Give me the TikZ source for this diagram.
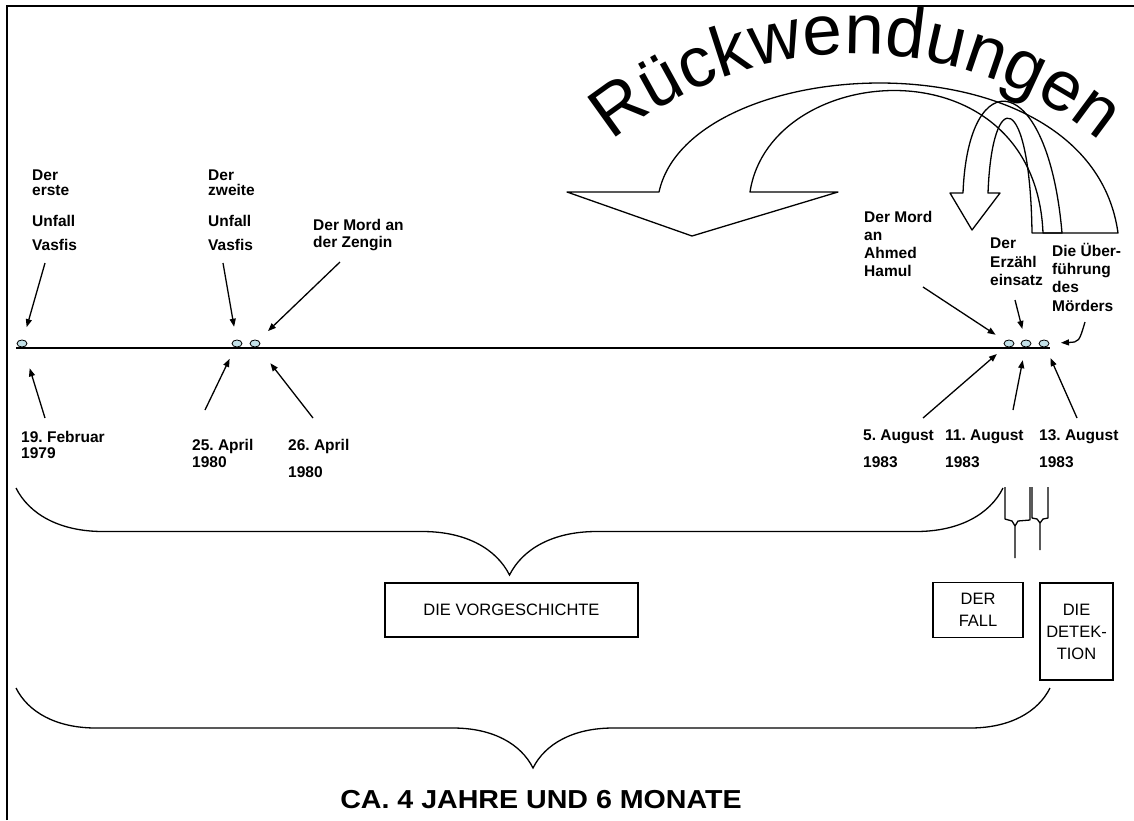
\documentclass[tikz,border=0pt]{standalone}
\usepackage{fontspec}
\setmainfont{Liberation Sans}
\newfontfamily\titelfont{Liberation Sans}[FakeStretch=1.1]
\usetikzlibrary{arrows.meta,shapes.geometric,decorations.pathreplacing,decorations.text}
\definecolor{punktblau}{RGB}{195,225,232}
\newcommand\rwfont{\fontsize{71}{80}\selectfont}
\tikzset{%
  % Specifications for style of nodes:
          punkt/.style = {ellipse, draw=black, fill=punktblau, minimum width=10pt,
                          minimum height=7pt, inner sep=0pt, line width=0.8pt},
          marke/.style = {anchor=base west, align=left, inner sep=0pt,
                          font=\fontsize{15.5}{18}\selectfont\bfseries\frenchspacing},
         kasten/.style = {draw, line width=1.2pt, align=center, inner sep=0pt,
                          font=\fontsize{16.5}{22}\selectfont},
%        titel/.style = {font=\fontsize{26}{30}\selectfont},
zeiger/.style={
           -{Triangle[length=8pt,width=6pt]},
           line width=1.3pt,
           shorten >=16pt},
klammer/.style={decorate, decoration={brace, mirror, amplitude=#1}, line width=1.3pt},
bogen/.style={line width=1.3pt, line join=round}
}
\begin{document}
\begin{tikzpicture}[x=1pt, y=-1pt]
\useasboundingbox (0,0) rectangle (1134,820);

% frame
\draw[line width=2.5pt] (7,820) -- (7,6) -- (1134,6);

% time line and dots
\coordinate (anfang) at (16,348);
\coordinate (ende) at (1050,348);
\draw[line width=1.8pt] (anfang) -- (ende);

\node[punkt] (d1) at (22,343.5) {};
\node[punkt] (d2) at (237,343.5) {};
\node[punkt] (d3) at (255,343.5) {};
\node[punkt] (d4) at (1009,343.5) {};
\node[punkt] (d5) at (1026,343.5) {};
\node[punkt] (d6) at (1044,343.5) {};

% events (anchored at the last line)
\node[marke] (erste)  at (32,250)  {Der\\[-3pt]erste\\[13pt]Unfall\\[6pt]Vasfis};
\node[marke] (zweite) at (208,250) {Der\\[-3pt]zweite\\[13pt]Unfall\\[6pt]Vasfis};
\node[marke] (zengin) at (313,247) {Der Mord an\\[-1pt]der Zengin};
\node[marke] (hamul)  at (864,276) {Der Mord\\an\\Ahmed\\Hamul};
\node[marke] (erz)    at (990,285) {Der\\[1pt]Erzähl\\einsatz};
\node[marke] (ueber)  at (1052,311) {Die Über-\\führung\\des\\[1pt]Mörders};

% dates
\node[marke] (feb)   at (21,458)  {19. Februar\\[-2pt]1979};
\node[marke] (apr25) at (192,467) {25. April\\[-1pt]1980};
\node[marke] (apr26) at (288,477) {26. April\\[9pt]1980};
\node[marke] (aug5)  at (863,467) {5. August\\[9pt]1983};
\node[marke] (aug11) at (945,467) {11. August\\[9pt]1983};
\node[marke] (aug13) at (1039,467) {13. August\\[9pt]1983};

% pointers
\coordinate (s1) at (45,263);
\coordinate (s2) at (223,263);
\coordinate (s3) at (340,262);
\coordinate (s4) at (923,287);
\coordinate (s5) at (1015,300);
\coordinate (s6) at (1085,322);
\coordinate (u1) at (45,418);
\coordinate (u2) at (205,410);
\coordinate (u3) at (313,418);
\coordinate (u4) at (923,418);
\coordinate (u5) at (1013,410);
\coordinate (u6) at (1077,418);

\draw[zeiger, shorten >=17pt] (s1) -- (d1.center);
\draw[zeiger, shorten >=17pt] (s2) -- (d2.center);
\draw[zeiger, shorten >=18pt] (s3) -- (d3.center);
\draw[zeiger, shorten >=16pt] (s4) -- (d4.center);
\draw[zeiger, shorten >=15pt] (s5) -- (d5.center);
\draw[zeiger, shorten >=17pt] (s6) .. controls (1079,342) .. (d6.center);
\draw[zeiger, shorten >=26pt] (u1) -- (d1.center);
\draw[zeiger, shorten >=17pt] (u2) -- (d2.center);
\draw[zeiger, shorten >=25pt] (u3) -- (d3.center);
\draw[zeiger, shorten >=16pt] (u4) -- (d4.center);
\draw[zeiger, shorten >=17pt] (u5) -- (d5.center);
\draw[zeiger, shorten >=16pt] (u6) -- (d6.center);

% flashbacks
\path[decorate, decoration={text along path, text align=center,
      text={|\rwfont|Rückwendungen}}]
  (856,438) ++(-140:384) arc[start angle=-140, end angle=-40, radius=384];
\draw[bogen] (659,192) .. controls (690,50) and (1090,30) .. (1118,233)
  -- (1043,233) .. controls (1035,40) and (770,60) .. (750,192)
  -- (838,192) -- (692,236) -- (567,192) -- cycle;
\draw[bogen] (963,193) .. controls (968,60) and (1048,70) .. (1062,233)
  -- (1032,233) .. controls (1030,90) and (992,85) .. (988,193)
  -- (1000,193) -- (972,230) -- (950,193) -- cycle;

% braces
\draw[klammer=87] (16,488) -- (1003,488);
\draw[klammer=80] (16,688) -- (1050,688);
\draw[bogen] (1005,487) -- (1005,519) -- (1012,521) -- (1015,526) -- (1015,558);
\draw[bogen] (1015,526) -- (1018,521) -- (1030,520) -- (1030,487);
\draw[bogen] (1032,487) -- (1032,518) -- (1037,519) -- (1040,523) -- (1040,550);
\draw[bogen] (1040,523) -- (1043,519) -- (1048,518) -- (1048,487);

% parts
\node[kasten, minimum width=253pt, minimum height=54pt] (vorg) at (511.5,610) {DIE VORGESCHICHTE};
\node[kasten, minimum width=90pt, minimum height=55pt] (fall) at (978,610) {DER\\FALL};
\node[kasten, minimum width=73pt, minimum height=97pt] (det) at (1076.5,631.5) {DIE\\DETEK-\\TION};

\node[font=\titelfont\fontsize{26}{30}\selectfont\bfseries] (dauer) at (541,800) {CA. 4 JAHRE UND 6 MONATE};

\end{tikzpicture}
\end{document}
